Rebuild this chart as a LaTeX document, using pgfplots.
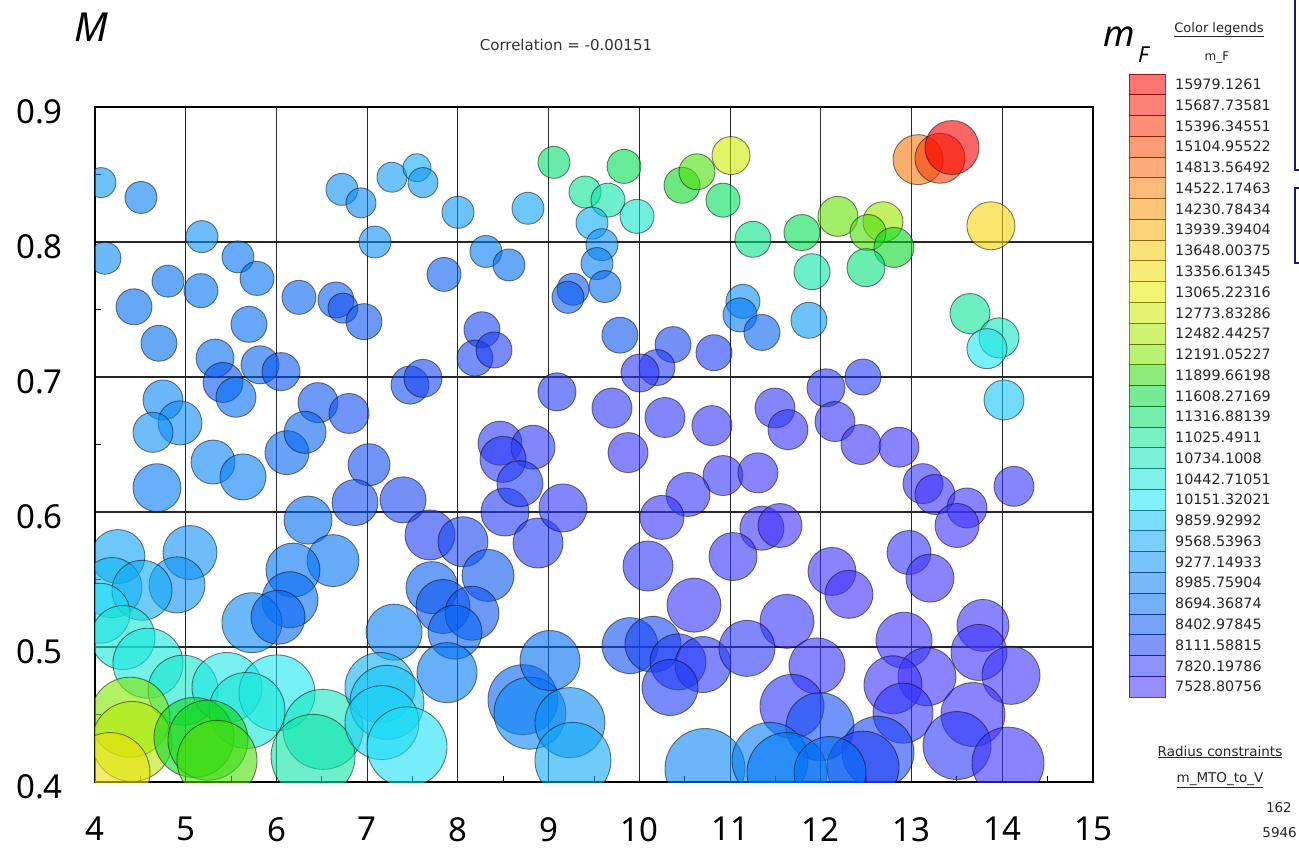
\documentclass[border=0pt]{standalone}
\usepackage{pgfplots}
\pgfplotsset{compat=1.18}
\usepackage{fontspec}
\setmainfont{Noto Sans}
\newfontfamily\smallui{DejaVu Sans}

% rectangular swatch used in the colour key
\pgfdeclareplotmark{swatch}{%
  \pgfpathrectangle{\pgfpoint{-18pt}{-10.38pt}}{\pgfpoint{36pt}{20.77pt}}%
  \pgfusepathqfillstroke}

\pgfplotsset{
  colormap={mf}{
    rgb255(0cm)=(63,47,255)
    rgb255(5.71cm)=(30,60,245)
    rgb255(8.71cm)=(10,85,240)
    rgb255(12.71cm)=(0,115,245)
    rgb255(17.71cm)=(13,145,247)
    rgb255(22.71cm)=(13,185,247)
    rgb255(26.22cm)=(30,230,247)
    rgb255(32.71cm)=(13,230,180)
    rgb255(39.71cm)=(0,222,80)
    rgb255(42.71cm)=(20,215,20)
    rgb255(46.71cm)=(130,230,0)
    rgb255(54.71cm)=(230,238,0)
    rgb255(59.71cm)=(247,213,13)
    rgb255(69.71cm)=(247,130,13)
    rgb255(84.50cm)=(247,0,0)
  },
}

\definecolor{boxblue}{RGB}{25,25,115}

\begin{document}
\begin{tikzpicture}
\useasboundingbox (-95pt,-67pt) rectangle (1204pt,782pt);

\begin{axis}[
  at={(0pt,0pt)}, anchor=south west,
  scale only axis, width=998pt, height=675pt,
  xmin=4, xmax=15, ymin=0.4, ymax=0.9,
  xtick={4,5,6,7,8,9,10,11,12,13,14,15},
  ytick={0.4,0.5,0.6,0.7,0.8,0.9},
  minor x tick num=1, minor y tick num=1,
  tick pos=left, tick align=inside,
  major tick length=0pt, minor tick length=6pt,
  minor tick style={line width=1pt, black},
  grid=major,
  major grid style={line width=1.1pt, black!85},
  axis line style={line width=1.2pt, black},
  colormap name=mf,
  point meta min=7528.80756, point meta max=15979.1261,
  clip marker paths=true,
  /pgf/number format/assume math mode=true,
  tick label style={font=\fontsize{33}{36}\selectfont, inner sep=0pt},
  xticklabel style={anchor=north, yshift=-35pt},
  yticklabel style={anchor=east, xshift=-32pt, yshift=-5pt},
]
\addplot[
  scatter, only marks, mark=*,
  point meta=explicit,
  scatter/use mapped color={draw=black, fill=mapped color},
  mark options={fill opacity=0.6, draw opacity=0.5, line width=0.9pt},
  visualization depends on={\thisrow{r} \as \rad},
  scatter/@pre marker code/.append style={/tikz/mark size=\rad},
] table[x=x, y=y, meta=c] {
x y r c
4.066 0.844 15 9400
4.507 0.833 16 9000
6.722 0.839 16 9300
6.932 0.829 15 9200
7.273 0.848 15 9400
7.549 0.855 14 9700
7.615 0.844 15 9400
8.001 0.822 16 9400
8.772 0.825 16 9500
9.059 0.859 16 11300
9.831 0.856 17 11500
9.401 0.837 16 11000
9.654 0.831 17 10900
9.974 0.819 17 10600
9.478 0.814 16 9700
9.588 0.798 16 9300
9.533 0.784 16 9000
9.621 0.767 16 8700
9.268 0.765 16 8400
9.213 0.759 16 8500
10.470 0.842 18 11700
10.635 0.852 18 12000
11.010 0.864 19 12800
10.922 0.831 17 11400
11.252 0.802 18 11100
11.792 0.807 18 11500
12.189 0.819 20 12100
12.685 0.815 20 12400
12.520 0.807 18 12000
12.806 0.796 20 11700
12.498 0.781 19 11200
11.903 0.778 18 10900
13.071 0.861 25 14600
13.313 0.862 25 15300
13.446 0.870 27 15979
13.875 0.812 24 13500
13.644 0.747 20 11000
13.964 0.729 20 10700
13.831 0.721 20 10200
14.019 0.683 20 9900
11.142 0.756 17 9300
11.109 0.746 17 8900
11.351 0.733 18 8600
11.869 0.742 18 9400
9.786 0.731 18 8400
10.371 0.724 18 8200
10.194 0.707 18 8000
10.007 0.703 19 7900
10.822 0.718 18 8100
9.698 0.677 20 7900
10.282 0.670 20 7800
10.800 0.664 20 7700
11.495 0.677 20 7800
11.638 0.661 20 7700
12.057 0.692 19 7900
12.465 0.700 18 8000
12.156 0.667 20 7700
12.443 0.650 20 7600
12.861 0.648 20 7600
9.875 0.644 20 7700
10.922 0.627 20 7700
11.307 0.629 20 7600
10.536 0.613 22 7700
10.249 0.596 22 7700
13.126 0.621 20 7700
13.258 0.613 20 7600
13.611 0.603 20 7600
13.501 0.590 22 7600
14.129 0.619 20 7700
12.972 0.570 22 7700
13.203 0.551 24 7600
11.351 0.588 22 7600
11.550 0.590 22 7500
11.032 0.567 24 7700
10.095 0.560 25 7900
12.123 0.556 24 7600
12.310 0.539 24 7500
10.602 0.531 27 7700
11.627 0.519 27 7700
13.787 0.516 26 7600
12.917 0.505 28 7600
13.743 0.496 28 7600
14.096 0.479 29 7600
13.170 0.478 29 7600
12.795 0.472 29 7600
9.897 0.501 28 8300
10.150 0.502 28 8200
10.426 0.489 28 8100
10.701 0.487 28 7900
10.338 0.470 28 8100
11.186 0.499 28 7900
11.958 0.486 28 7700
11.682 0.456 32 7800
11.991 0.441 34 8300
12.906 0.451 30 7800
13.677 0.450 32 7600
13.501 0.427 34 7900
14.063 0.414 36 7600
12.630 0.422 36 8200
12.465 0.411 36 8100
10.723 0.410 40 9100
11.440 0.416 38 9000
11.627 0.407 40 8800
12.101 0.407 36 8700
4.683 0.618 24 8900
5.301 0.637 22 9100
5.631 0.626 23 9000
6.116 0.644 22 8600
5.323 0.714 19 8700
5.411 0.696 20 8400
5.554 0.685 20 8700
5.819 0.709 19 8600
6.050 0.704 19 8400
4.749 0.683 20 9100
4.937 0.666 22 9200
4.639 0.659 20 9300
6.458 0.681 20 8400
6.800 0.673 20 8300
6.315 0.659 21 8600
7.472 0.694 19 8300
7.615 0.699 19 8200
9.092 0.689 19 8000
8.265 0.735 18 8200
8.188 0.714 18 8200
8.398 0.720 18 8100
8.464 0.651 22 7900
8.828 0.648 22 7900
7.020 0.635 21 8300
6.866 0.607 23 8300
7.395 0.609 23 8200
6.348 0.594 24 8700
7.692 0.583 25 8100
8.056 0.578 25 8200
8.519 0.600 24 8000
8.497 0.639 23 7900
8.684 0.621 23 8100
8.883 0.577 25 8000
9.158 0.603 24 7800
8.332 0.553 26 8400
7.714 0.544 26 8500
7.836 0.530 27 8400
8.155 0.525 27 8400
7.968 0.511 27 8600
7.296 0.511 28 9000
7.880 0.481 30 8900
6.623 0.564 26 8800
6.182 0.557 27 8800
6.149 0.535 28 8700
5.730 0.518 30 9200
6.017 0.522 27 8600
5.047 0.570 27 9300
4.904 0.546 28 9300
4.253 0.567 27 9500
4.187 0.544 30 9800
4.518 0.542 30 9600
4.055 0.525 30 10100
4.309 0.507 32 10500
4.584 0.488 35 10400
4.970 0.468 35 10600
5.455 0.470 35 10300
6.006 0.466 38 10200
5.675 0.453 38 10500
6.513 0.439 40 10700
6.403 0.419 42 10900
7.141 0.470 35 9700
7.218 0.459 37 9900
7.163 0.444 37 10000
7.439 0.426 40 10100
4.386 0.448 40 12200
4.408 0.430 40 12600
5.091 0.433 40 11700
5.245 0.431 40 11800
5.345 0.416 40 12000
4.165 0.407 40 13300
8.717 0.461 35 8600
8.794 0.451 36 9100
9.235 0.444 35 9200
9.268 0.416 38 9600
9.015 0.490 30 8700
4.110 0.788 16 9200
5.179 0.804 16 9300
5.576 0.789 16 8800
5.786 0.773 17 8800
4.805 0.771 16 8700
5.168 0.764 17 8800
4.430 0.752 18 8700
4.705 0.725 18 8700
5.697 0.739 18 8700
6.248 0.759 17 8600
6.656 0.757 18 8500
6.733 0.751 15 8300
6.965 0.741 18 8400
7.086 0.800 16 9300
7.847 0.776 17 8500
8.309 0.793 16 9000
8.563 0.783 16 8700
};
\end{axis}

% colour key for m_F
\begin{axis}[
  at={(1034pt,85pt)}, anchor=south west,
  scale only axis, width=36pt, height=623pt,
  xmin=0, xmax=1, ymin=-0.5, ymax=29.5,
  axis line style={draw=none},
  major tick length=0pt,
  xtick=\empty,
  ytick={0,...,29},
  yticklabels={7528.80756,7820.19786,8111.58815,8402.97845,8694.36874,8985.75904,9277.14933,9568.53963,9859.92992,10151.32021,10442.71051,10734.1008,11025.4911,11316.88139,11608.27169,11899.66198,12191.05227,12482.44257,12773.83286,13065.22316,13356.61345,13648.00375,13939.39404,14230.78434,14522.17463,14813.56492,15104.95522,15396.34551,15687.73581,15979.1261},
  yticklabel pos=right,
  yticklabel style={anchor=west, inner sep=0pt, xshift=10pt,
    font=\smallui\fontsize{14.3}{16}\selectfont, text=black!85},
  colormap name=mf,
  point meta min=7528.80756, point meta max=15979.1261,
  clip=false,
]
\addplot[
  scatter, only marks, mark=swatch,
  point meta=explicit,
  scatter/use mapped color={draw=mapped color!55!black, fill=mapped color},
  mark options={fill opacity=0.55, draw opacity=0.8, line width=0.8pt},
] table[x=x, y=y, meta=c] {
x y c
0.5 0 7528.80756
0.5 1 7820.19786
0.5 2 8111.58815
0.5 3 8402.97845
0.5 4 8694.36874
0.5 5 8985.75904
0.5 6 9277.14933
0.5 7 9568.53963
0.5 8 9859.92992
0.5 9 10151.32021
0.5 10 10442.71051
0.5 11 10734.1008
0.5 12 11025.4911
0.5 13 11316.88139
0.5 14 11608.27169
0.5 15 11899.66198
0.5 16 12191.05227
0.5 17 12482.44257
0.5 18 12773.83286
0.5 19 13065.22316
0.5 20 13356.61345
0.5 21 13648.00375
0.5 22 13939.39404
0.5 23 14230.78434
0.5 24 14522.17463
0.5 25 14813.56492
0.5 26 15104.95522
0.5 27 15396.34551
0.5 28 15687.73581
0.5 29 15979.1261
};
\end{axis}

% labels around the plot
\node[anchor=base west, inner sep=0pt, font=\fontsize{40}{44}\selectfont\itshape] at (-21pt,740pt) {M};
\node[font=\smallui\fontsize{15}{18}\selectfont, text=black!80] at (471pt,737pt) {Correlation = -0.00151};
\node[anchor=base west, inner sep=0pt, font=\fontsize{36}{40}\selectfont\itshape] at (1008pt,735pt) {m};
\node[anchor=base west, inner sep=0pt, font=\fontsize{22}{24}\selectfont\itshape] at (1043pt,719pt) {F};
\node[font=\smallui\fontsize{13}{15}\selectfont, text=black!85] at (1124pt,752pt) {\underline{Color legends}};
\node[font=\smallui\fontsize{12}{14}\selectfont, text=black!85] at (1122pt,724pt) {m\_F};
\node[font=\smallui\fontsize{13.5}{15}\selectfont, text=black!85] at (1125pt,30pt) {\underline{Radius constraints}};
\node[font=\smallui\fontsize{13.5}{15}\selectfont, text=black!85] at (1125pt,2pt) {\underline{m\_MTO\_to\_V}};
\node[anchor=east, inner sep=0pt, font=\smallui\fontsize{13.5}{15}\selectfont, text=black!85] at (1197pt,-26pt) {162};
\node[anchor=east, inner sep=0pt, font=\smallui\fontsize{13.5}{15}\selectfont, text=black!85] at (1202pt,-51pt) {5946};

% panel frames at the right edge
\draw[boxblue, line width=1.5pt] (1200pt,612pt) rectangle (1260pt,800pt);
\draw[boxblue, line width=1.5pt] (1200pt,519pt) rectangle (1260pt,594pt);
\end{tikzpicture}
\end{document}
